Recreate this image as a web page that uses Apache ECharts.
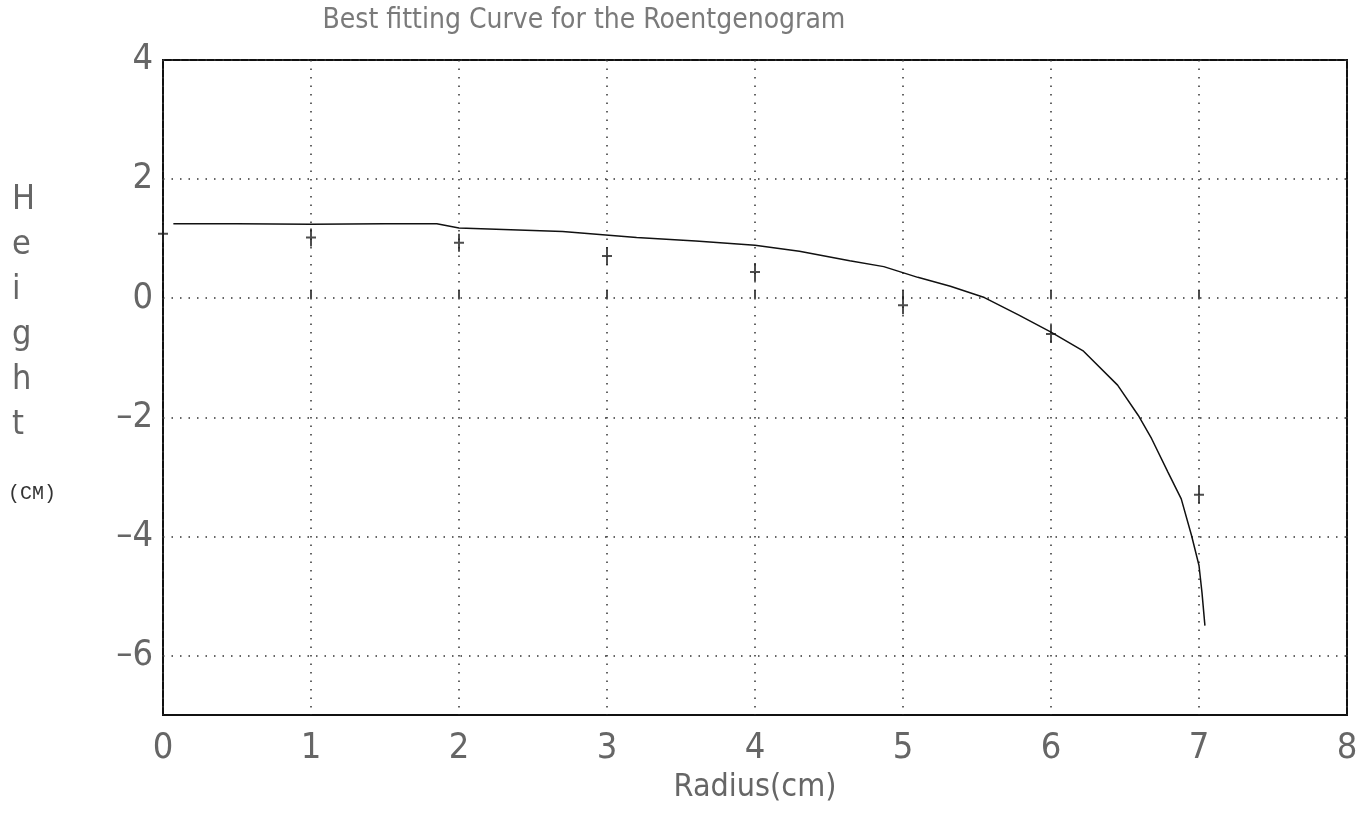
<!DOCTYPE html>
<html>
<head>
<meta charset="utf-8">
<script src="https://cdn.jsdelivr.net/npm/echarts@6/dist/echarts.min.js"></script>
<style>
html,body{margin:0;padding:0;background:#fff;}
#chart{width:1363px;height:830px;}
</style>
</head>
<body>
<div id="chart"></div>
<script>
// Fitted curve (radius vs height)
const curveX = [0.07, 0.5, 1.0, 1.5, 1.85, 2.0, 2.7, 3.2, 3.6, 4.0, 4.3, 4.64, 4.87, 5.1, 5.32, 5.55, 5.78, 6.0, 6.22, 6.45, 6.59, 6.68, 6.79, 6.88, 6.95, 7.0, 7.02, 7.04];
const curveY = [1.25, 1.25, 1.24, 1.25, 1.25, 1.18, 1.12, 1.02, 0.96, 0.89, 0.79, 0.63, 0.53, 0.35, 0.2, 0.01, -0.28, -0.57, -0.89, -1.46, -1.97, -2.36, -2.92, -3.37, -3.99, -4.49, -4.94, -5.5];
// Measured points (+ markers)
const pointsX = [0, 1, 2, 3, 4, 5, 6, 7];
const pointsY = [1.08, 1.02, 0.93, 0.71, 0.44, -0.12, -0.6, -3.3];
// Tick labels
const xTickLabels = [0, 1, 2, 3, 4, 5, 6, 7, 8];
const yTickLabels = [-6, -4, -2, 0, 2, 4];

const titleText = 'Best fitting Curve for the Roentgenogram';
const xName = 'Radius(cm)';
const yName = 'Height';
const yUnit = '(CM)';

const narrow = "'Liberation Sans Narrow','DejaVu Sans Condensed','Liberation Sans',sans-serif";

const chart = echarts.init(document.getElementById('chart'));
const gridLine = {show: true, lineStyle: {color: '#333', width: 1.5, type: [1.5, 7]}};

chart.setOption({
  backgroundColor: '#fff',
  animation: false,
  title: {
    text: titleText, left: 579, top: 2, textAlign: 'center',
    textStyle: {fontFamily: narrow, fontSize: 28, fontWeight: 'normal', color: '#7a7a7a'}
  },
  grid: {left: 163, right: 16, top: 60, bottom: 115, show: true, borderColor: '#111', borderWidth: 2, backgroundColor: 'transparent'},
  xAxis: {
    type: 'value', min: 0, max: 8, interval: 1,
    name: xName, nameLocation: 'middle', nameGap: 50,
    nameTextStyle: {fontFamily: narrow, fontSize: 32, color: '#666'},
    axisLine: {show: false},
    axisTick: {show: true, inside: true, length: 8, lineStyle: {color: '#111', width: 1.5}},
    axisLabel: {
      margin: 16, fontFamily: narrow, fontSize: 36, color: '#666',
      formatter: v => xTickLabels.includes(v) ? String(v) : ''
    },
    splitLine: gridLine
  },
  yAxis: {
    type: 'value', min: -7, max: 4, interval: 1,
    axisLine: {show: false},
    axisTick: {show: false},
    axisLabel: {
      margin: 10, fontFamily: narrow, fontSize: 36, color: '#666',
      formatter: v => yTickLabels.includes(v) ? (v < 0 ? '\u2013' + Math.abs(v) : String(v)) : ''
    },
    splitLine: {show: true, lineStyle: {color: ['transparent', '#333'], width: 1.5, type: [1.5, 7]}}
  },
  graphic: [
    {type: 'text', left: 12, top: 178, style: {text: yName.split('').join('\n'), fontFamily: narrow, fontSize: 34, lineHeight: 45, fill: '#666', align: 'center'}},
    {type: 'text', left: 8, top: 484, style: {text: yUnit, fontFamily: "'Liberation Mono','DejaVu Sans Mono',monospace", fontSize: 20, fill: '#333'}}
  ],
  series: [
    {
      type: 'line', data: curveX.map((x, i) => [x, curveY[i]]),
      showSymbol: false, smooth: false,
      lineStyle: {color: '#111', width: 1.5}
    },
    {
      type: 'scatter', clip: false, data: pointsX.map((x, i) => [x, pointsY[i]]),
      symbol: 'path://M4,0h2v8h4v2h-4v8h-2v-8h-4v-2h4z', symbolSize: [10, 18],
      itemStyle: {color: '#222'}
    }
  ]
});
</script>
</body>
</html>
